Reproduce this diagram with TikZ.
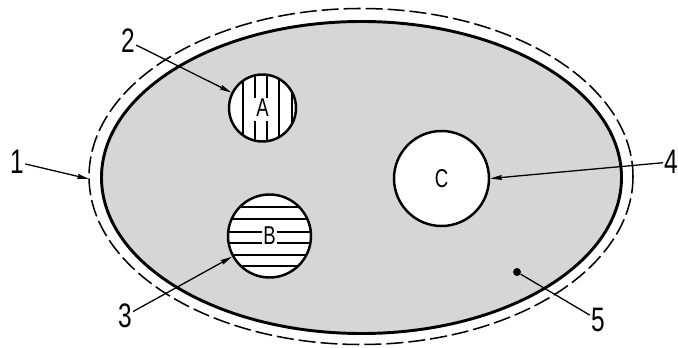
\documentclass[tikz,border=0pt]{standalone}
\usepackage{fontspec}
\newfontfamily\isofont[FakeStretch=0.72]{Liberation Sans}
\usetikzlibrary{arrows.meta}

\begin{document}
\begin{tikzpicture}[x=0.03cm, y=-0.03cm,
  num/.style={font=\isofont\fontsize{29}{29}\selectfont, inner sep=1pt},
  disc/.style={circle, draw, line width=2.1pt, fill=white, inner sep=0pt,
               font=\isofont\fontsize{22}{22}\selectfont},
  hatch/.style={line width=0.95pt},
  lead/.style={line width=1.1pt},
  tip/.style={-{Stealth[length=10pt, width=4.2pt, inset=1pt]}}]
  \useasboundingbox (0,0) rectangle (678,348);
  % outer contour and shaded body
  \draw[line width=1.3pt, dash pattern=on 0.51cm off 0.15cm]
    (361,176.5) ellipse [x radius=272, y radius=168];
  \draw[line width=2.5pt, fill=black!16]
    (361.5,177.5) ellipse [x radius=260, y radius=156];
  \coordinate (rim) at (89,179);
  % inclusions
  \node[disc, minimum size=2.01cm, path picture={
      \foreach \dx in {-19.5,-7.5,4.5,16.5,29.5}
        \draw[hatch] ([xshift=\dx*0.03cm]path picture bounding box.north)
          -- ([xshift=\dx*0.03cm]path picture bounding box.south);
      \fill[white] ([shift={(-10,-10)}]path picture bounding box.center)
        rectangle ([shift={(8,13)}]path picture bounding box.center);
    }] (A) at (262.5,108) {A};
  \node[disc, minimum size=2.49cm, path picture={
      \foreach \dy in {-29,-17,-4,7,19,30}
        \draw[hatch] ([yshift=-\dy*0.03cm]path picture bounding box.west)
          -- ([yshift=-\dy*0.03cm]path picture bounding box.east);
      \fill[white] ([shift={(-7.5,-9)}]path picture bounding box.center)
        rectangle ([shift={(7.5,11)}]path picture bounding box.center);
    }] (B) at (269.5,236) {B};
  \node[disc, minimum size=2.85cm] (C) at (441.5,178.5) {C};
  \node[circle, fill, inner sep=0pt, minimum size=0.24cm] (dot) at (517,272) {};
  % reference numbers
  \node[num] (n1) at (17,162) {1};
  \node[num] (n2) at (128,41) {2};
  \node[num] (n3) at (125,316) {3};
  \node[num] (n4) at (671,162) {4};
  \node[num] (n5) at (598,320) {5};
  \draw[lead, tip] (n1) -- (rim);
  \draw[lead, tip] (n2) -- (A);
  \draw[lead, tip] (n3) -- (B);
  \draw[lead, tip] (n4) -- (C.east);
  \draw[lead] (n5) -- (dot);
\end{tikzpicture}
\end{document}
